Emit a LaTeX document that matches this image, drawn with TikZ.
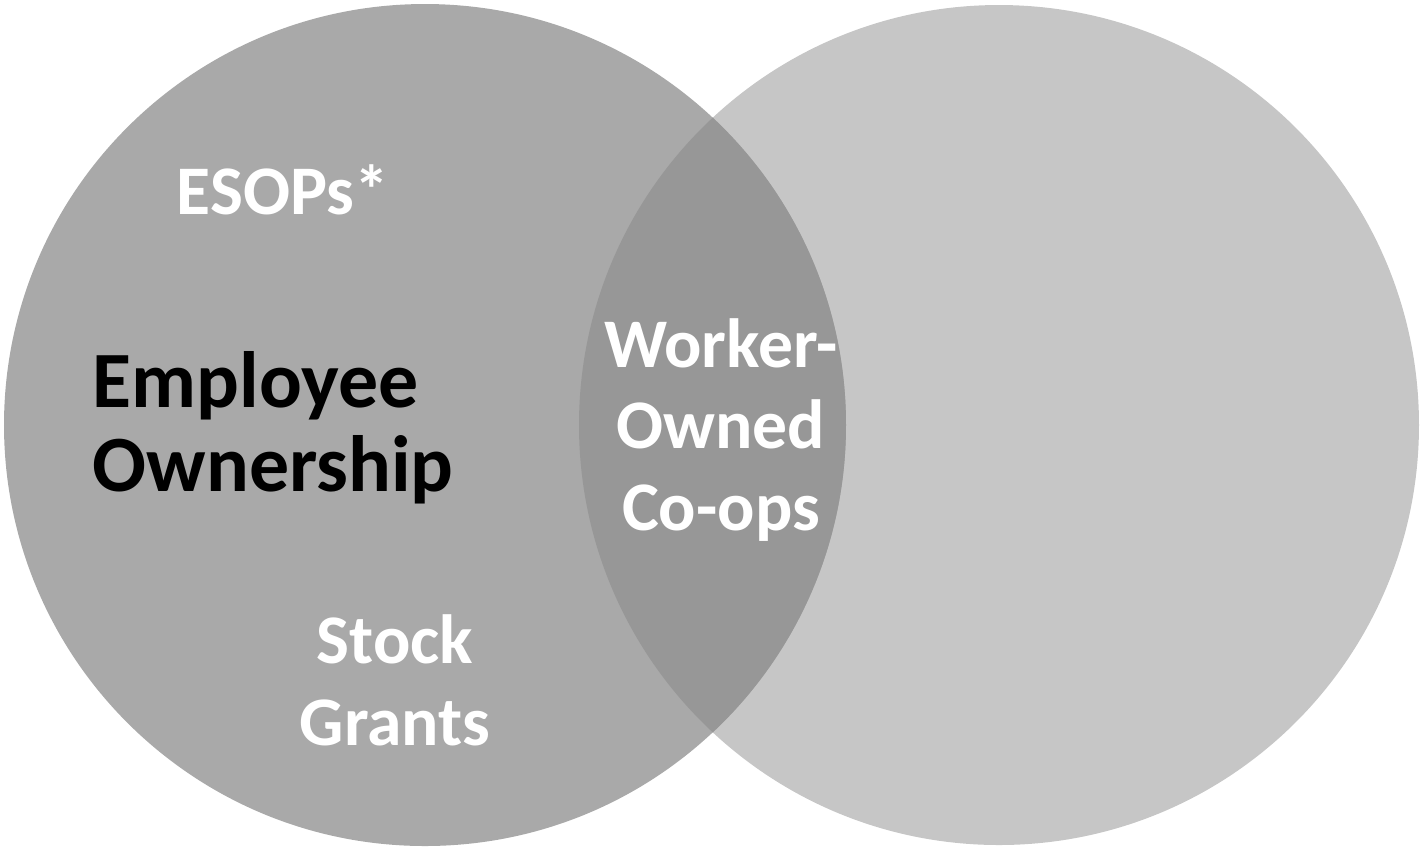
\documentclass[tikz,border=0pt]{standalone}
\usepackage{fontspec}
\setmainfont{Carlito}
\begin{document}
\begin{tikzpicture}[x=0.01cm, y=-0.01cm,
    bigtext/.style={font=\bfseries\fontsize{22.7}{24}\selectfont, text=black, inner sep=0},
    smalltext/.style={font=\bfseries\fontsize{19.8}{23.3}\selectfont, text=white, inner sep=0, align=center}]
    \useasboundingbox (0, 0) rectangle (1420, 847);

    \coordinate (cleft) at (425, 425);
    \coordinate (cright) at (999, 425);

    \fill[color={rgb,255:red,198;green,198;blue,198}] (cright) circle[radius=420];
    \fill[color={rgb,255:red,169;green,169;blue,169}] (cleft) circle[radius=421];
    \begin{scope}
        \clip (cleft) circle[radius=421];
        \fill[color={rgb,255:red,151;green,151;blue,151}] (cright) circle[radius=420];
    \end{scope}

    \node[bigtext, anchor=west, align=left] (owner) at (92, 428) {Employee\\Ownership};
    \node[smalltext, anchor=base] (esop) at (283, 214) {ESOPs*};
    \node[smalltext] (stock) at (395, 680) {Stock\\Grants};
    \node[smalltext] (coop) at (721, 430) {Worker-\\Owned\\Co-ops};
\end{tikzpicture}
\end{document}
